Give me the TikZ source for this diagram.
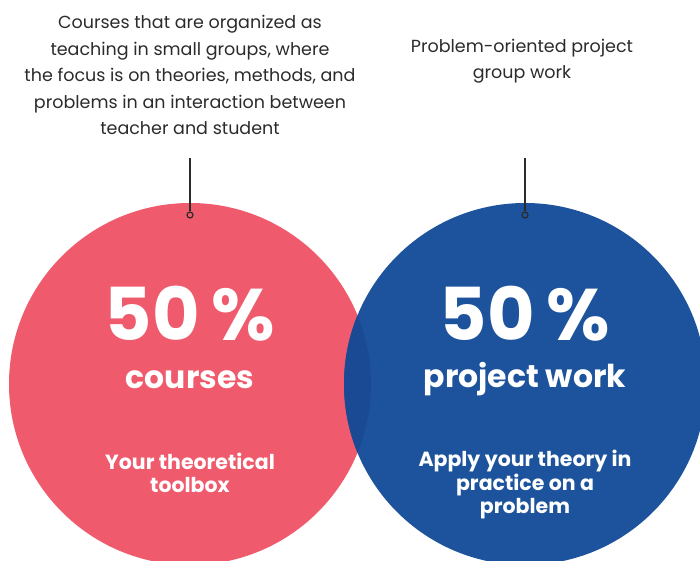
\documentclass[tikz,border=0pt]{standalone}
\usepackage{fontspec}
\setmainfont{Poppins}
\usetikzlibrary{positioning}
\definecolor{crsred}{HTML}{EF5A6D}
\definecolor{projblue}{HTML}{1D539C}
\definecolor{lensblue}{HTML}{1A4A93}
\definecolor{notegray}{HTML}{2B2B2B}

\begin{document}
\begin{tikzpicture}[x=1pt,y=-1pt,
    note/.style={align=center,text=notegray,font=\fontsize{17.5}{26.5}\selectfont},
    bignum/.style={anchor=base,text=white,font=\fontsize{73}{80}\bfseries\selectfont},
    head/.style={anchor=base,text=white,font=\fontsize{31.5}{34}\bfseries\selectfont},
    sub/.style={align=center,text=white,font=\fontsize{20.5}{23.5}\bfseries\selectfont},
    dot/.style={circle,draw=notegray,line width=1.2pt,inner sep=0pt,minimum size=6pt}]
  \useasboundingbox (0,0) rectangle (700,561);
  % the two discs, overlap a bit darker
  \fill[crsred] (190,384) circle (181);
  \fill[projblue] (525,384) circle (181);
  \begin{scope}
    \clip (190,384) circle (181);
    \fill[lensblue] (525,384) circle (181);
  \end{scope}
  % notes on top
  \node[note] (crsnote) at (190,75) {Courses that are organized as\\teaching in small groups, where\\the focus is on theories, methods, and\\problems in an interaction between\\teacher and student};
  \node[note] (projnote) at (522,61) {Problem-oriented project\\group work};
  \coordinate (crstop) at (190,158);
  \coordinate (projtop) at (525,158);
  \node[dot] (crsdot) at (190,215) {};
  \node[dot] (projdot) at (525,215) {};
  \draw[notegray,line width=1.2pt] (crstop) -- (crsdot);
  \draw[notegray,line width=1.2pt] (projtop) -- (projdot);
  % texts in the discs
  \node[bignum] (crsnum) at (190,340) {50\,\%};
  \node[head] (crshead) at (190,388) {courses};
  \node[sub] (crssub) at (190,473) {Your theoretical\\toolbox};
  \node[sub] (projsub) at (525,485) {Apply your theory in\\practice on a\\problem};
  \node[bignum] (projnum) at (525,340) {50\,\%};
  \node[head] (projhead) at (525,387) {project work};
\end{tikzpicture}
\end{document}
